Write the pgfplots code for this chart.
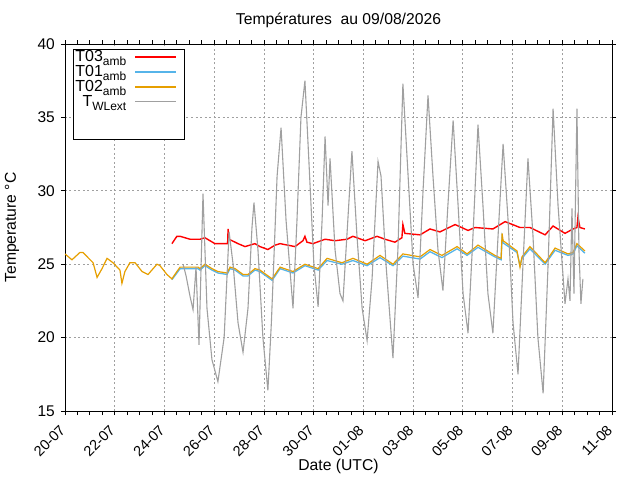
\documentclass[border=0pt]{standalone}
\usepackage{fontspec}
\setmainfont{Liberation Sans}
\usepackage{pgfplots}
\pgfplotsset{compat=1.18}
\definecolor{cTa}{RGB}{255,0,0}
\definecolor{cTb}{RGB}{86,180,233}
\definecolor{cTc}{RGB}{230,159,0}
\definecolor{cTw}{RGB}{160,160,160}
\definecolor{gridc}{RGB}{160,160,160}
\newcommand{\sub}[1]{\raisebox{-3.5pt}{\fontsize{12}{12}\selectfont #1}}
\begin{document}
\begin{tikzpicture}
\useasboundingbox (-65pt,-69pt) rectangle (575pt,411pt);
\begin{axis}[at={(0,0)}, anchor=south west, scale only axis,
  width=547pt, height=367pt,
  xmin=0, xmax=22, ymin=15, ymax=40,
  xtick={0,2,...,22},
  xticklabels={20-07,22-07,24-07,26-07,28-07,30-07,01-08,03-08,05-08,07-08,09-08,11-08},
  minor x tick num=3,
  ytick={15,20,...,40},
  grid=major,
  major grid style={gridc, dash pattern=on 2pt off 2.5pt, line width=0.7pt},
  tick align=outside, major tick length=4pt, minor tick length=4pt,
  axis line style={line width=0.8pt},
  every tick/.style={black, line width=0.8pt},
  /pgf/number format/assume math mode=true,
  yticklabel style={xshift=-6pt, anchor=east, inner sep=0pt, font=\fontsize{15.5}{17}\selectfont},
  xticklabel style={xshift=-6pt, yshift=-9pt, rotate=45, anchor=north east, inner sep=0pt, font=\fontsize{14.5}{16}\selectfont},
  title={Températures\ \ au 09/08/2026},
  title style={at={(axis description cs:0.5,1.049)}, anchor=center, font=\fontsize{15.7}{18}\selectfont},
  xlabel={Date (UTC)},
  xlabel style={at={(axis description cs:0.5,-0.150)}, anchor=center, font=\fontsize{15.7}{18}\selectfont},
  ylabel={Temperature °C},
  ylabel style={at={(axis description cs:-0.0969,0.5)}, anchor=center, font=\fontsize{15.7}{18}\selectfont},
  legend style={at={(axis description cs:0.0146,0.9864)}, anchor=north west,
    draw=black, line width=0.8pt, fill=white, inner xsep=1pt, inner ysep=0pt,
    font=\fontsize{16}{16}\selectfont,
    nodes={inner ysep=0.25pt, inner xsep=1pt, text height=12pt, text depth=2.5pt},
    column sep=7pt},
  legend cell align=right,
  legend plot pos=right,
  legend image code/.code={\draw[#1] (0pt,0pt) -- (41pt,0pt); \path (47pt,0pt);},
]
\addlegendimage{draw=cTa, line width=1.3pt}
\addlegendentry{T03\sub{amb}}
\addlegendimage{draw=cTb, line width=1.6pt}
\addlegendentry{T01\sub{amb}}
\addlegendimage{draw=cTc, line width=1.4pt}
\addlegendentry{T02\sub{amb}}
\addlegendimage{draw=cTw, line width=1.1pt}
\addlegendentry{T\sub{WLext}}
\addlegendimage{empty legend}\addlegendentry{}
\addlegendimage{empty legend}\addlegendentry{}
% T03amb
\addplot[cTa, line width=1.4pt, forget plot] coordinates {
(4.30,26.4) (4.50,26.9) (4.63,26.9) (5.03,26.7) (5.43,26.7) (5.63,26.8) (5.83,26.6)
(6.03,26.4) (6.44,26.4) (6.54,26.4) (6.56,27.4) (6.60,26.7) (6.96,26.4) (7.24,26.2)
(7.64,26.4) (7.84,26.2) (8.16,26.0) (8.45,26.3) (8.65,26.4) (9.25,26.2) (9.57,26.6)
(9.65,26.9) (9.73,26.5) (9.97,26.4) (10.46,26.7) (10.86,26.6) (11.34,26.7) (11.58,26.9)
(12.07,26.6) (12.55,26.9) (12.87,26.7) (13.27,26.5) (13.55,26.8) (13.59,27.7) (13.67,27.1)
(14.28,27.0) (14.68,27.4) (15.08,27.2) (15.69,27.7) (16.21,27.3) (16.49,27.5) (17.21,27.4)
(17.70,27.9) (18.30,27.5) (18.70,27.5) (19.31,27.0) (19.63,27.6) (20.11,27.1) (20.43,27.4)
(20.59,27.5) (20.63,28.2) (20.71,27.5) (20.91,27.4)
};
% T01amb
\addplot[cTb, line width=1.3pt, forget plot] coordinates {
(4.30,23.95) (4.50,24.4) (4.63,24.7) (4.91,24.7) (5.35,24.7) (5.43,24.6) (5.63,24.9)
(5.91,24.6) (6.15,24.4) (6.52,24.3) (6.64,24.7) (6.84,24.6) (7.16,24.2) (7.36,24.2)
(7.64,24.6) (7.84,24.5) (8.33,23.9) (8.65,24.7) (9.17,24.4) (9.65,24.9) (10.18,24.6)
(10.54,25.25) (11.14,25.0) (11.58,25.25) (12.15,24.9) (12.67,25.45) (13.19,24.9)
(13.59,25.55) (14.28,25.35) (14.68,25.85) (15.16,25.45) (15.77,26.05) (16.17,25.6)
(16.61,26.15) (17.29,25.5) (17.54,25.3) (17.58,26.8) (17.62,26.45) (18.18,25.8)
(18.30,24.9) (18.38,25.4) (18.70,26.05) (19.31,25.0) (19.71,25.95) (20.23,25.6)
(20.43,25.7) (20.59,26.25) (20.91,25.75)
};
% T02amb
\addplot[cTc, line width=1.2pt, forget plot] coordinates {
(0.00,25.7) (0.28,25.3) (0.60,25.8) (0.72,25.8) (1.13,25.1) (1.29,24.1) (1.49,24.7)
(1.69,25.4) (1.93,25.1) (2.21,24.6) (2.29,23.7) (2.41,24.5) (2.61,25.1) (2.82,25.1)
(3.10,24.5) (3.34,24.3) (3.70,25.0) (3.82,24.9) (4.10,24.3) (4.30,24.0) (4.50,24.5)
(4.63,24.8) (4.91,24.8) (5.35,24.8) (5.43,24.7) (5.63,25.0) (5.91,24.7) (6.15,24.5)
(6.52,24.4) (6.64,24.8) (6.84,24.7) (7.16,24.3) (7.36,24.3) (7.64,24.7) (7.84,24.6)
(8.33,24.0) (8.65,24.8) (9.17,24.5) (9.65,25.0) (10.18,24.7) (10.54,25.4) (11.14,25.1)
(11.58,25.4) (12.15,25.0) (12.67,25.6) (13.19,25.0) (13.59,25.7) (14.28,25.5) (14.68,26.0)
(15.16,25.6) (15.77,26.2) (16.17,25.7) (16.61,26.3) (17.29,25.6) (17.54,25.4) (17.58,27.1)
(17.62,26.6) (18.18,25.9) (18.30,24.8) (18.38,25.5) (18.70,26.2) (19.31,25.1) (19.71,26.1)
(20.23,25.7) (20.43,25.8) (20.59,26.4) (20.91,25.9)
};
% TWLext
\addplot[cTw, line width=1.1pt, forget plot] coordinates {
(4.75,25.0) (4.87,24.2) (5.03,22.8) (5.15,21.9) (5.27,24.8) (5.39,19.5) (5.55,29.8)
(5.71,22.0) (5.91,18.5) (6.15,17.0) (6.40,20.0) (6.60,27.2) (6.76,25.0) (6.96,21.0)
(7.16,19.0) (7.36,22.0) (7.52,27.5) (7.60,29.2) (7.76,26.0) (7.96,20.0) (8.16,16.4) (8.30,21.0) (8.37,24.0)
(8.53,31.0) (8.69,34.3) (8.89,28.0) (9.17,22.0) (9.33,28.0) (9.49,35.0) (9.65,37.5)
(9.81,32.0) (10.01,25.0) (10.18,22.1) (10.34,28.0) (10.46,33.7) (10.58,29.0) (10.66,32.2)
(10.86,26.0) (11.06,23.0) (11.18,22.5) (11.34,27.0) (11.54,32.7) (11.74,27.0) (11.95,22.0)
(12.15,19.8) (12.35,24.0) (12.59,32.0) (12.71,31.0) (12.91,25.0) (13.19,18.6) (13.39,26.0)
(13.59,37.3) (13.80,31.0) (14.00,25.0) (14.20,22.7) (14.40,30.0) (14.60,36.5) (14.80,31.0)
(15.00,26.0) (15.20,23.2) (15.40,29.0) (15.61,34.8) (15.81,29.0) (16.01,23.0) (16.21,20.3)
(16.41,27.0) (16.61,34.5) (16.81,29.0) (17.01,23.0) (17.21,20.3) (17.42,27.0) (17.62,33.2)
(17.82,28.0) (18.02,21.0) (18.22,17.5) (18.42,25.0) (18.62,32.2) (18.82,27.0) (19.02,20.0)
(19.23,16.2) (19.43,25.0) (19.63,35.6) (19.83,29.0) (20.11,22.3) (20.23,24.0) (20.31,22.5)
(20.39,28.8) (20.47,23.0) (20.59,35.6) (20.67,26.0) (20.75,22.3) (20.83,24.0)
};
\end{axis}
\end{tikzpicture}
\end{document}
